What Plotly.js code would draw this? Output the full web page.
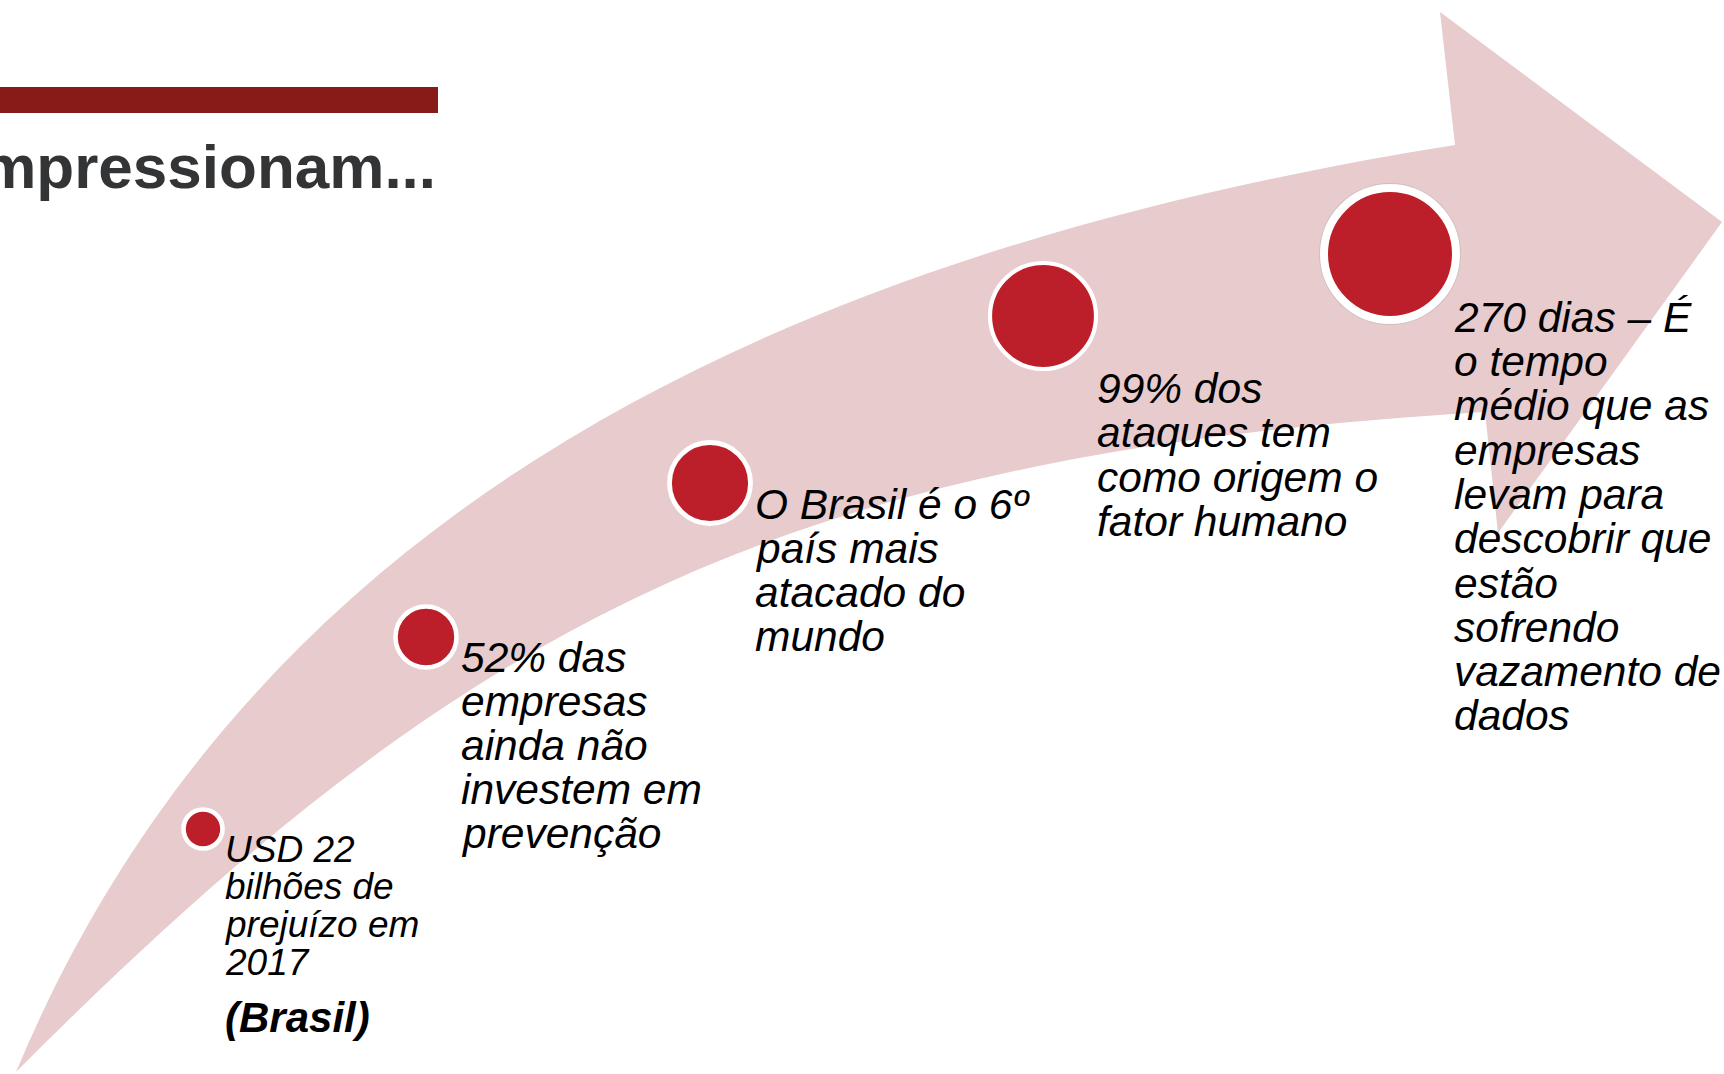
<!DOCTYPE html>
<html>
<head>
<meta charset="utf-8">
<script src="https://cdn.plot.ly/plotly-3.0.1.min.js"></script>
<style>
  html, body { margin: 0; padding: 0; background: #ffffff; }
  #chart { width: 1724px; height: 1074px; }
</style>
</head>
<body>
<div id="chart"></div>
<script>
// ---- data ----
const titleText = 'impressionam...';
const statementLines = [
  ['USD 22', 'bilhões de', 'prejuízo em', '2017'],
  ['52% das', 'empresas', 'ainda não', 'investem em', 'prevenção'],
  ['O Brasil é o 6º', 'país mais', 'atacado do', 'mundo'],
  ['99% dos', 'ataques tem', 'como origem o', 'fator humano'],
  ['270 dias – É', 'o tempo', 'médio que as', 'empresas', 'levam para', 'descobrir que', 'estão', 'sofrendo', 'vazamento de', 'dados']
];
const footnote = '(Brasil)';
const stepIndex = [1, 2, 3, 4, 5];
const bubbleX = [203, 426, 710, 1043, 1390];
const bubbleY = [829, 637, 483, 316, 254];
const bubbleDiameter = [39, 61, 81, 106, 132];

// ---- geometry (layout, not data) ----
const W = 1724, H = 1074;
const arrowTail = [16, 1072];
const upperCtrl = [[230, 560], [700, 265]];
const upperNotch = [1455, 145];
const headTop = [1440, 12];
const headTip = [1722, 222];
const headLow = [1498, 533];
const lowerNotch = [1485, 412];
const lowerCtrl = [[785, 454], [468, 618]];

const textX = [224, 460, 754, 1096, 1453];
const firstBaseline = [862, 672, 519, 403, 332];
const lineStep = [37.7, 44, 44, 44.5, 44.3];
const fontSizes = [37, 42.5, 42.5, 42.5, 42.5];

const pinkC = '#E7CBCD';
const redC = '#BC1F29';
const barC = '#881A17';
const titleC = '#333436';
const FONT = 'Liberation Sans, Arial, Helvetica, sans-serif';

function pt(p) { return p[0] + ',' + p[1]; }
const arrowPath = 'M ' + pt(arrowTail) +
  ' C ' + pt(upperCtrl[0]) + ' ' + pt(upperCtrl[1]) + ' ' + pt(upperNotch) +
  ' L ' + pt(headTop) + ' L ' + pt(headTip) + ' L ' + pt(headLow) + ' L ' + pt(lowerNotch) +
  ' C ' + pt(lowerCtrl[0]) + ' ' + pt(lowerCtrl[1]) + ' ' + pt(arrowTail) + ' Z';

const annotations = [];
statementLines.forEach(function (lines, i) {
  const fs = fontSizes[i];
  lines.forEach(function (ln, j) {
    annotations.push({
      x: textX[i], y: firstBaseline[i] + j * lineStep[i] - 0.3465 * fs,
      xref: 'x', yref: 'y', xanchor: 'left', yanchor: 'middle',
      text: '<i>' + ln + '</i>', showarrow: false, borderpad: 0,
      font: { family: FONT, size: fs, color: '#000000' }
    });
  });
});
annotations.push({
  x: textX[0], y: 1032 - 0.3465 * 42, xref: 'x', yref: 'y', xanchor: 'left', yanchor: 'middle',
  text: '<b><i>' + footnote + '</i></b>', showarrow: false, borderpad: 0,
  font: { family: FONT, size: 42, color: '#000000' }
});
annotations.push({
  x: 437, y: 188 - 0.3465 * 62, xref: 'x', yref: 'y', xanchor: 'right', yanchor: 'middle',
  text: '<b>' + titleText + '</b>', showarrow: false, borderpad: 0,
  font: { family: FONT, size: 62, color: titleC }
});

const halo = {
  type: 'scatter', mode: 'markers', x: [bubbleX[4]], y: [bubbleY[4]],
  marker: { size: [bubbleDiameter[4] + 10], color: '#cdbfc0', opacity: 1, line: { width: 0 } },
  hoverinfo: 'skip', showlegend: false
};
const bubbles = {
  type: 'scatter', mode: 'markers', x: bubbleX, y: bubbleY,
  customdata: stepIndex,
  marker: {
    size: bubbleDiameter, color: redC, opacity: 1,
    line: { color: '#ffffff', width: [4.6, 4.6, 4.8, 4.2, 8] }
  },
  hoverinfo: 'skip', showlegend: false
};

const layout = {
  width: W, height: H,
  margin: { l: 0, r: 0, t: 0, b: 0, pad: 0 },
  paper_bgcolor: '#ffffff', plot_bgcolor: 'rgba(0,0,0,0)',
  showlegend: false,
  xaxis: { range: [0, W], visible: false, fixedrange: true },
  yaxis: { range: [H, 0], visible: false, fixedrange: true },
  shapes: [
    { type: 'path', path: arrowPath, xref: 'x', yref: 'y', fillcolor: pinkC, line: { width: 0 }, layer: 'below' },
    { type: 'rect', xref: 'x', yref: 'y', x0: -5, x1: 438, y0: 87, y1: 113, fillcolor: barC, line: { width: 0 }, layer: 'below' }
  ],
  annotations: annotations
};

Plotly.newPlot('chart', [halo, bubbles], layout, { displayModeBar: false, staticPlot: true });
</script>
</body>
</html>
